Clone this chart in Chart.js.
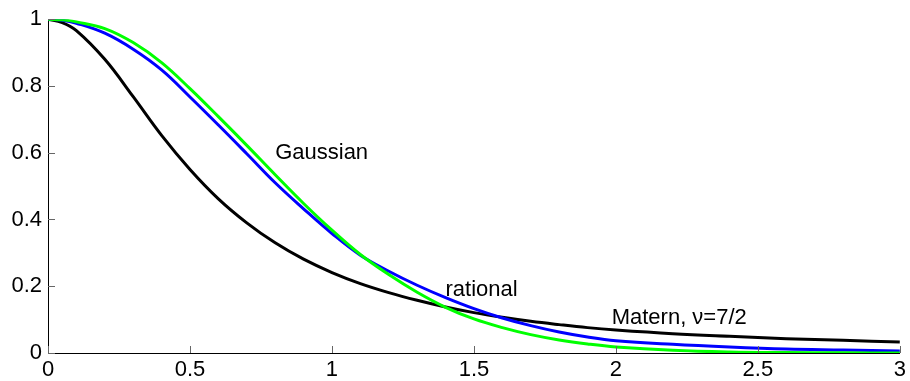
<!DOCTYPE html>
<html>
<head>
<meta charset="utf-8">
<script src="https://cdn.jsdelivr.net/npm/chart.js@4.4.0/dist/chart.umd.min.js"></script>
<style>
  html, body { margin: 0; padding: 0; background: #fff; }
  #wrap { width: 910px; height: 381px; }
</style>
</head>
<body>
<div id="wrap"><canvas id="kernels"></canvas></div>
<script>
// values
const xs = [0, 0.05, 0.1, 0.2, 0.3, 0.4, 0.5, 0.6, 0.7, 0.8, 0.9, 1.0, 1.1, 1.2, 1.3, 1.4, 1.5,
            1.6, 1.7, 1.8, 1.9, 2.0, 2.2, 2.4, 2.6, 2.8, 3.0];
const gaussian = [1, 0.998, 0.992, 0.972, 0.93, 0.87, 0.792, 0.708, 0.622, 0.534, 0.448, 0.368, 0.295, 0.235,
                  0.182, 0.137, 0.102, 0.076, 0.055, 0.039, 0.027, 0.018, 0.008, 0.003, 0.0012, 0.0005, 0.0002];
const matern = [1, 0.997, 0.988, 0.958, 0.91, 0.848, 0.767, 0.683, 0.597, 0.51, 0.432, 0.358, 0.293, 0.245,
                0.203, 0.166, 0.133, 0.105, 0.082, 0.063, 0.048, 0.037, 0.026, 0.018, 0.012, 0.009, 0.006];
const rational = [1, 0.99, 0.966, 0.88, 0.768, 0.652, 0.55, 0.462, 0.39, 0.33, 0.281, 0.241, 0.208, 0.181,
                  0.158, 0.138, 0.121, 0.107, 0.095, 0.085, 0.076, 0.069, 0.058, 0.05, 0.043, 0.038, 0.033];
const xTicks = [0, 0.5, 1, 1.5, 2, 2.5, 3];
const yTicks = [0, 0.2, 0.4, 0.6, 0.8, 1];
const notes = [
  { x: 0.8, y: 0.6, text: 'Gaussian' },
  { x: 1.4, y: 0.19, text: 'rational' },
  { x: 1.985, y: 0.104, text: 'Matern, \u03bd=7/2' }
];

const FAMILY = '"Liberation Sans", Arial, sans-serif';

function pts(ys) {
  return xs.map((x, i) => ({ x: x, y: ys[i] }));
}

function fmt(v) {
  return String(Math.round(v * 100) / 100);
}

// inward tick marks + curve labels
const extras = {
  id: 'extras',
  afterDraw(chart) {
    const ctx = chart.ctx;
    const sx = chart.scales.x, sy = chart.scales.y;
    const area = chart.chartArea;
    ctx.save();
    ctx.strokeStyle = '#666';
    ctx.lineWidth = 1;
    ctx.beginPath();
    xTicks.forEach(v => {
      const px = Math.round(sx.getPixelForValue(v)) + 0.5;
      ctx.moveTo(px, area.bottom);
      ctx.lineTo(px, area.bottom - 7);
    });
    yTicks.forEach(v => {
      const py = Math.round(sy.getPixelForValue(v)) + 0.5;
      ctx.moveTo(area.left, py);
      ctx.lineTo(area.left + 7, py);
    });
    ctx.stroke();

    ctx.fillStyle = '#000';
    ctx.font = '22px ' + FAMILY;
    ctx.textAlign = 'left';
    ctx.textBaseline = 'middle';
    notes.forEach(n => {
      ctx.fillText(n.text, sx.getPixelForValue(n.x), sy.getPixelForValue(n.y));
    });
    ctx.restore();
  }
};

const ctxK = document.getElementById('kernels');

new Chart(ctxK, {
  type: 'line',
  data: {
    datasets: [
      { label: 'Gaussian', data: pts(gaussian), borderColor: '#00ff00', borderWidth: 3 },
      { label: 'Matern', data: pts(matern), borderColor: '#0000ff', borderWidth: 3 },
      { label: 'rational', data: pts(rational), borderColor: '#000000', borderWidth: 3 }
    ]
  },
  options: {
    responsive: true,
    maintainAspectRatio: false,
    animation: false,
    layout: { padding: { top: 17, right: 8, left: 0, bottom: 0 } },
    elements: {
      point: { radius: 0 },
      line: { tension: 0.4, fill: false }
    },
    plugins: {
      legend: { display: false },
      tooltip: { enabled: false }
    },
    scales: {
      x: {
        type: 'linear',
        min: 0,
        max: 3,
        afterBuildTicks: s => { s.ticks = xTicks.map(v => ({ value: v })); },
        afterFit: s => { s.height = 28; },
        grid: { display: false, drawTicks: false },
        border: { display: true, color: '#000', width: 1 },
        ticks: { color: '#000', font: { family: FAMILY, size: 22 }, padding: 4, maxRotation: 0, callback: v => fmt(v) }
      },
      y: {
        type: 'linear',
        min: 0,
        max: 1,
        afterBuildTicks: s => { s.ticks = yTicks.map(v => ({ value: v })); },
        afterFit: s => { s.width = 48; },
        grid: { display: false, drawTicks: false },
        border: { display: true, color: '#000', width: 1 },
        ticks: { color: '#000', font: { family: FAMILY, size: 22 }, padding: 6, callback: v => fmt(v) }
      }
    }
  },
  plugins: [extras]
});
</script>
</body>
</html>
